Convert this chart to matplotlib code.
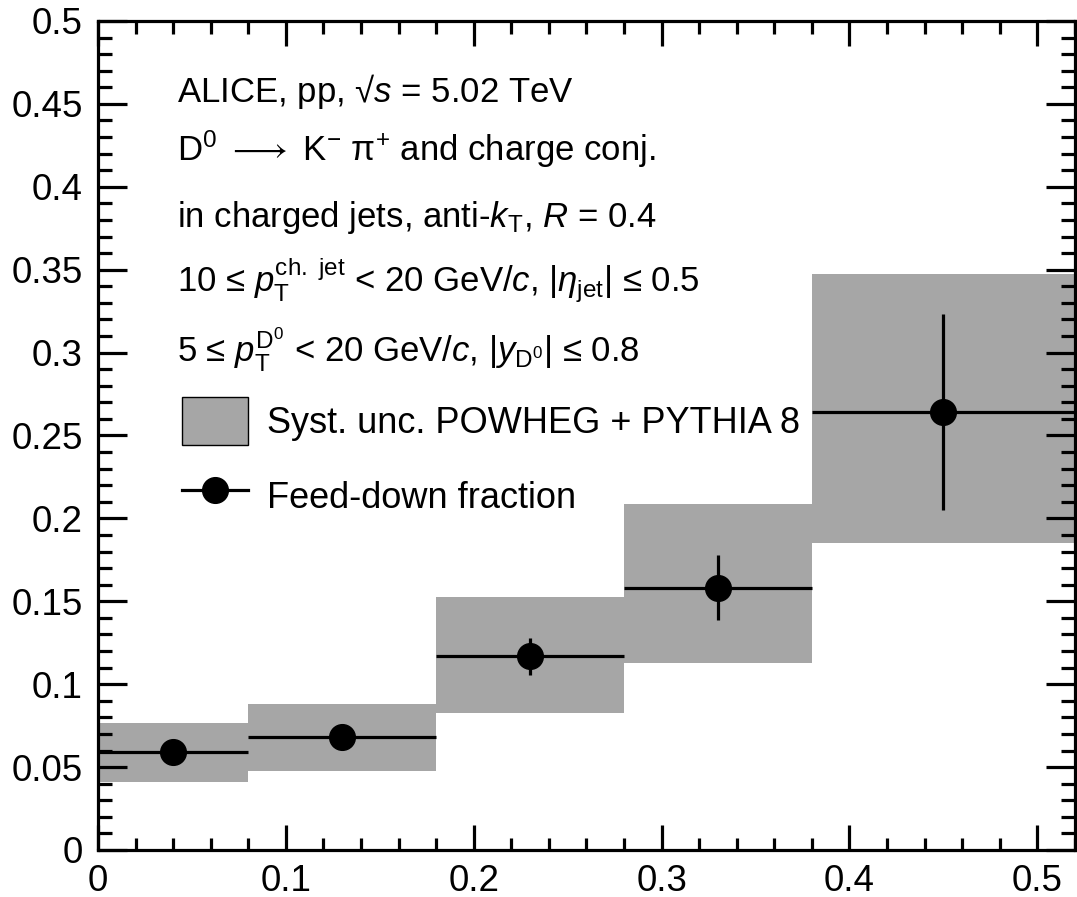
import numpy as np
import matplotlib
matplotlib.use("Agg")
import matplotlib.pyplot as plt
from matplotlib.ticker import MultipleLocator, FormatStrFormatter
from matplotlib.patches import Patch
from matplotlib.lines import Line2D

# data
bin_lo = [0.0, 0.08, 0.18, 0.28, 0.38]
bin_hi = [0.08, 0.18, 0.28, 0.38, 0.52]
x_pt = [0.04, 0.13, 0.23, 0.33, 0.45]
frac = [0.059, 0.068, 0.117, 0.158, 0.264]
stat_dn = [0.003, 0.003, 0.0115, 0.019, 0.059]
stat_up = [0.003, 0.003, 0.011, 0.020, 0.059]
syst_lo = [0.041, 0.0476, 0.0826, 0.1126, 0.185]
syst_hi = [0.0763, 0.0878, 0.1523, 0.2088, 0.3474]

plt.rcParams['font.family'] = ['Liberation Sans', 'DejaVu Sans']
plt.rcParams['mathtext.fontset'] = 'custom'
plt.rcParams['mathtext.rm'] = 'Liberation Sans'
plt.rcParams['mathtext.it'] = 'Liberation Sans:italic'
plt.rcParams['mathtext.bf'] = 'Liberation Sans:bold'

fig = plt.figure(figsize=(10.77, 8.97), dpi=100)
ax = fig.add_axes([0.091, 0.0524, 0.907, 0.9242])

lo = np.array(bin_lo)
hi = np.array(bin_hi)
# systematic boxes
ax.bar(lo, np.array(syst_hi) - np.array(syst_lo), width=hi - lo, bottom=syst_lo,
       align='edge', color='#a6a6a6', edgecolor='none', zorder=1)

# points with bin width + stat errors
xe = [np.array(x_pt) - lo, hi - np.array(x_pt)]
ax.errorbar(x_pt, frac, xerr=xe, yerr=[stat_dn, stat_up], fmt='o', color='k',
            ms=18.5, elinewidth=2.3, capsize=0, zorder=3)

ax.set_xlim(0, 0.52)
ax.set_ylim(0, 0.5)
ax.xaxis.set_major_locator(MultipleLocator(0.1))
ax.xaxis.set_minor_locator(MultipleLocator(0.02))
ax.yaxis.set_major_locator(MultipleLocator(0.05))
ax.yaxis.set_minor_locator(MultipleLocator(0.01))
ax.xaxis.set_major_formatter(FormatStrFormatter('%g'))
ax.yaxis.set_major_formatter(FormatStrFormatter('%g'))
ax.tick_params(which='both', direction='in', top=True, right=True, width=2.3)
ax.tick_params(axis='y', which='major', length=21, pad=11, labelsize=26.5)
ax.tick_params(axis='y', which='minor', length=10)
ax.tick_params(axis='x', which='major', length=18, pad=10, labelsize=26.5)
ax.tick_params(axis='x', which='minor', length=9)
for s in ax.spines.values():
    s.set_linewidth(2.3)

fs = 25
tx = 0.081
ax.text(tx, 0.9023, r'ALICE, pp, √$s$ = 5.02 TeV', transform=ax.transAxes, fontsize=fs, va='baseline')
ax.text(tx, 0.8311, r'D$^{0}$ $\longrightarrow$ K$^{-}$ π$^{+}$ and charge conj.', transform=ax.transAxes, fontsize=fs, va='baseline')
ax.text(tx, 0.7515, r'in charged jets, anti-$k_{\mathrm{T}}$, $R$ = 0.4', transform=ax.transAxes, fontsize=fs, va='baseline')
ax.text(tx, 0.6731, r'10 ≤ $p_{\mathrm{T}}^{\mathrm{ch.\ jet}}$ < 20 GeV/$c$, |$\eta_{\mathrm{jet}}$| ≤ 0.5', transform=ax.transAxes, fontsize=fs, va='baseline')
ax.text(tx, 0.5887, r'5 ≤ $p_{\mathrm{T}}^{\mathrm{D^{0}}}$ < 20 GeV/$c$, |$y_{\mathrm{D^{0}}}$| ≤ 0.8', transform=ax.transAxes, fontsize=fs, va='baseline')

handles = [Patch(facecolor='#a6a6a6', edgecolor='k', linewidth=1),
           Line2D([], [], color='k', marker='o', ms=18.5, lw=2.3)]
labels = ['Syst. unc. POWHEG + PYTHIA 8', 'Feed-down fraction']
ax.legend(handles, labels, loc='upper left', bbox_to_anchor=(0.086, 0.546), frameon=False,
          fontsize=26, borderpad=0, borderaxespad=0, handlelength=1.83, handleheight=1.67,
          handletextpad=0.53, labelspacing=0.74)

fig.savefig('out.png', dpi=100)
